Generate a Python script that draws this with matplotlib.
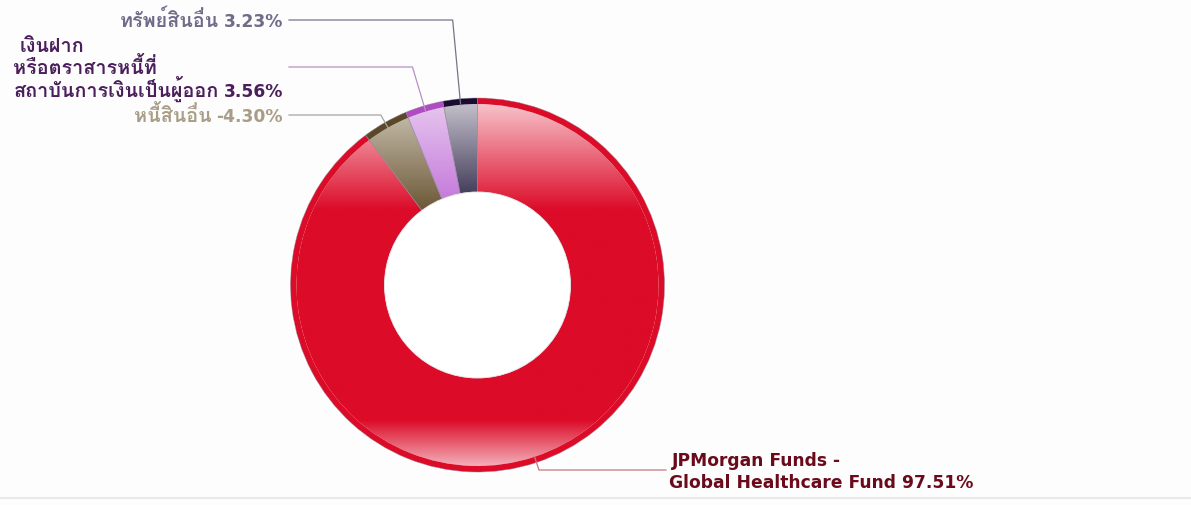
import numpy as np
import matplotlib
matplotlib.use("Agg")
import matplotlib.pyplot as plt
from matplotlib.patches import Wedge, Circle
from matplotlib.colors import to_rgb

# ------------------------ data -----------------------
labels = [["JPMorgan Funds -", "Global Healthcare Fund"],
          ["หนี้สินอื่น"],
          ["เงินฝาก", "หรือตราสารหนี้ที่", "สถาบันการเงินเป็นผู้ออก"],
          ["ทรัพย์สินอื่น"]]
values = [97.51, -4.30, 3.56, 3.23]

# ------------------------ style ----------------------
base_colors  = ["#dc0b28", "#6c5836", "#c272d8", "#2e2648"]
light_colors = ["#f8cdd3", "#d2cbbd", "#e8cbf0", "#cbc8d1"]
rim_colors   = ["#dc0b28", "#5c4828", "#b04cc2", "#1a0b30"]
text_colors  = ["#6b0a1a", "#a89d86", "#4b1f5c", "#706b88"]
line_colors  = ["#c47785", "#a5a5a5", "#b890c4", "#77738a"]
label_y = [471, 116, 68, 21]      # pixel row of each leader line
latin = ['DejaVu Sans', 'Loma']
thai = ['Loma', 'DejaVu Sans']
fs_latin, fs_thai = 12.3, 14.3
line_h = 22.5

W, H = 1191, 506
cx, cy = 477.5, 286.0             # pie centre (pixels, y down)
R, r_in, rim = 187.0, 93.0, 6.0

fig = plt.figure(figsize=(W/100, H/100), dpi=100, facecolor="#fdfdfd")
ax = fig.add_axes([0, 0, 1, 1])
ax.set_xlim(0, W)
ax.set_ylim(H, 0)
ax.set_aspect('equal')
ax.axis('off')
renderer = fig.canvas.get_renderer()

def is_thai(s):
    return any('\u0e00' <= ch <= '\u0e7f' for ch in s)

# vertical gradient weights (light at the top and bottom of the pie)
n = 400
yy = cy - R + (np.arange(n) + 0.5) * 2*R/n
t = np.interp(yy, [cy-R, cy-R+112, cy+R-52, cy+R-6], [1.0, 0.0, 0.0, 0.85])

total = sum(abs(v) for v in values)
start = -90.0
for i, v in enumerate(values):
    ang = abs(v) / total * 360.0
    t1, t2 = start, start + ang
    start = t2

    # gradient body
    body = Wedge((cx, cy), R - rim, t1, t2, width=R - rim - r_in,
                 facecolor='none', edgecolor='none')
    ax.add_patch(body)
    c0 = np.array(to_rgb(base_colors[i]))
    c1 = np.array(to_rgb(light_colors[i]))
    img = (t[:, None] * c1 + (1 - t[:, None]) * c0)[:, None, :]
    im = ax.imshow(img, extent=(cx-R, cx+R, cy+R, cy-R), origin='upper',
                   aspect='auto', interpolation='bilinear', zorder=1)
    im.set_clip_path(body)

    # darker rim on the outer edge
    ax.add_patch(Wedge((cx, cy), R, t1, t2, width=rim,
                       facecolor=rim_colors[i], edgecolor='none', zorder=2))
    # thin separator
    ax.add_patch(Wedge((cx, cy), R, t1, t2, width=R - r_in,
                       facecolor='none', edgecolor='#8e8494', lw=0.5,
                       alpha=0.6, zorder=3))

    # leader line: anchor on the slice, elbow on the same ray at label row
    th = np.radians((t1 + t2) / 2)
    ax_x, ax_y = cx + 181*np.cos(th), cy + 181*np.sin(th)
    ly = label_y[i]
    s = (ly - cy) / np.sin(th)
    ex = cx + s*np.cos(th)
    right_side = ex > cx
    xe = 666 if right_side else 289
    ax.plot([ax_x, ex, xe], [ax_y, ly, ly], color=line_colors[i], lw=0.9,
            zorder=4)

    # label: lines stacked around the leader row, last line carries the %
    lines = labels[i]
    k = len(lines)
    base0 = ly + 6 - (k - 1) * line_h / 2
    col = text_colors[i]
    kw = dict(va='baseline', color=col, fontweight='bold')
    if right_side:
        x0 = 669
        for j, ln in enumerate(lines):
            s_ = ln + (" %.2f%%" % v if j == k - 1 else "")
            ax.text(x0 + (3 if j == 0 else 0), base0 + j*line_h, s_,
                    ha='left', family=latin, fontsize=fs_latin, **kw)
    else:
        yb = base0 + (k - 1)*line_h
        num = ax.text(283, yb, "%.2f%%" % v, ha='right', family=latin,
                      fontsize=fs_latin, **kw)
        xl = num.get_window_extent(renderer).x0 - 5
        last = ax.text(xl, yb, lines[-1], ha='right',
                       family=thai if is_thai(lines[-1]) else latin,
                       fontsize=fs_thai, **kw)
        x0 = last.get_window_extent(renderer).x0
        for j, ln in enumerate(lines[:-1]):
            ax.text(x0 + (6 if j == 0 else 0), base0 + j*line_h, ln,
                    ha='left', family=thai if is_thai(ln) else latin,
                    fontsize=fs_thai, **kw)

ax.add_patch(Circle((cx, cy), r_in, facecolor='white', edgecolor='#e4e0e4',
                    lw=0.6, zorder=3))
ax.axhline(498.5, color='#e9e9e9', lw=1.5)

fig.savefig("out.png", dpi=100, facecolor=fig.get_facecolor())
